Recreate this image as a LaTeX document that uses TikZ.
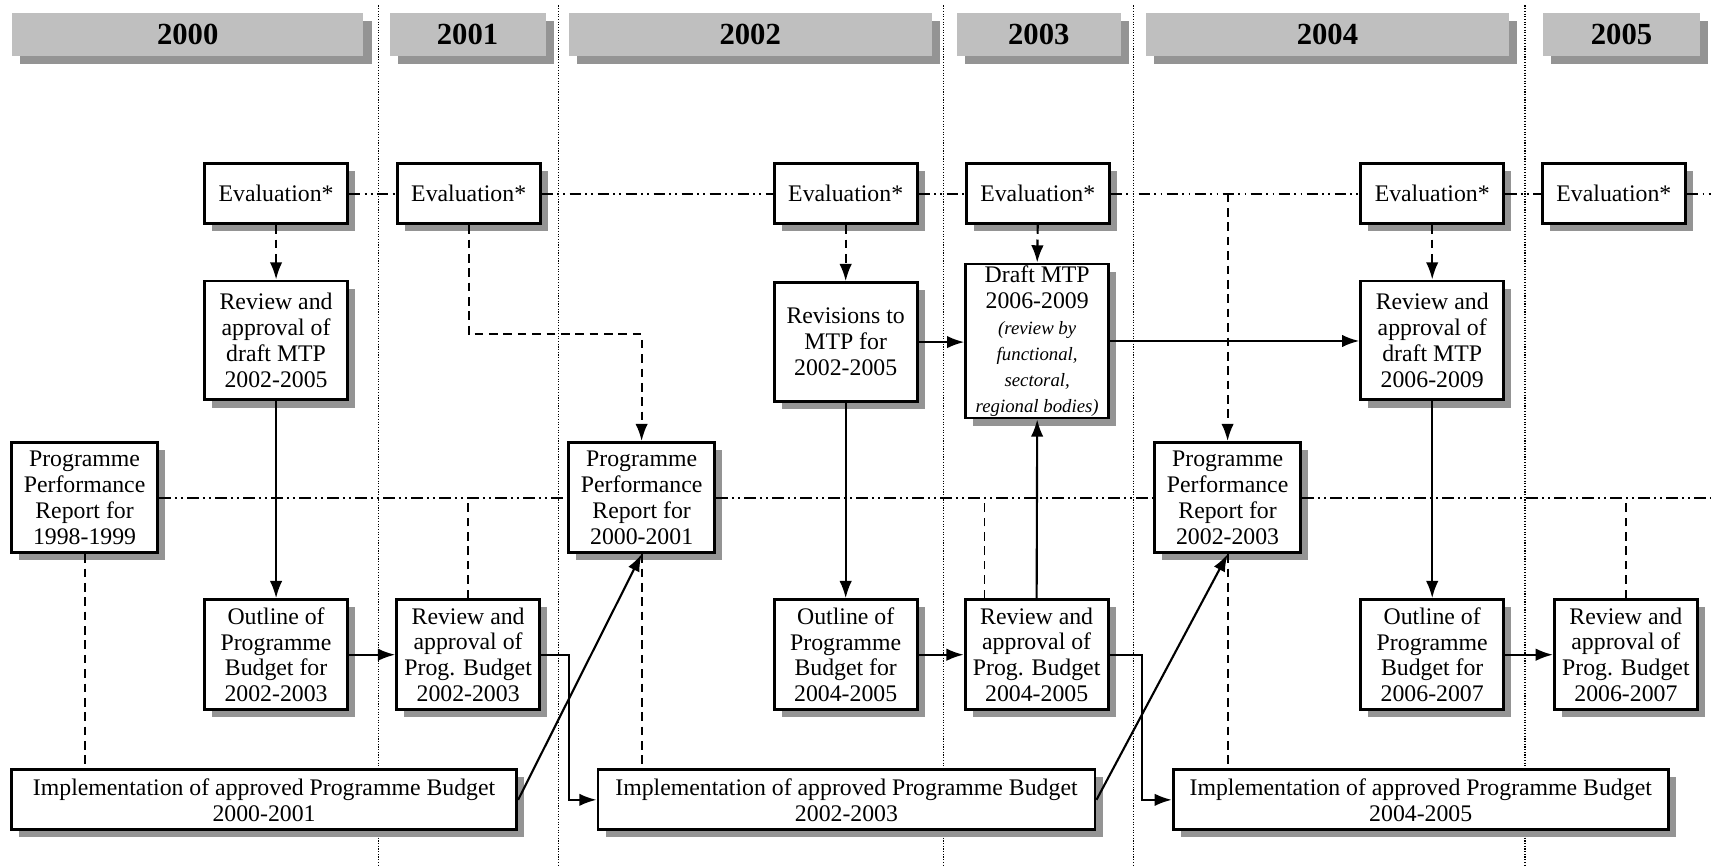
\documentclass[tikz,border=0pt]{standalone}
\usepackage{fontspec}
\setmainfont{Liberation Serif}
\usetikzlibrary{positioning}
\usetikzlibrary{shadows,arrows.meta}
\newcommand{\mtpnote}[1]{{\itshape\fontsize{9.8}{12}\selectfont #1}}

\begin{document}
\begin{tikzpicture}[x=0.2mm, y=-0.2mm,
  every node/.style = {font=\fontsize{12.4}{13.5}\selectfont},
  box/.style = {shape=rectangle, draw, line width=1.5pt, fill=white,
    align=center, inner sep=1pt, minimum width=2.62cm,
    drop shadow={shadow xshift=0.14cm, shadow yshift=-0.14cm, fill=black!42, opacity=1}},
  evalbox/.style = {box, minimum height=1.1cm},
  mtpbox/.style = {box, minimum height=2.18cm},
  pbbox/.style = {box, minimum height=2.02cm},
  implbox/.style = {box, minimum height=1.1cm},
  yearbar/.style = {shape=rectangle, fill=black!25, minimum height=0.78cm,
    font=\bfseries\fontsize{16}{18}\selectfont,
    drop shadow={shadow xshift=0.15cm, shadow yshift=-0.15cm, fill=black!42, opacity=1}},
  yearline/.style = {line width=0.6pt, dash pattern=on 0.6pt off 0.8pt},
  timeline/.style = {line width=1.1pt, dash pattern=on 6pt off 2.2pt on 1pt off 2.2pt on 1pt off 2.2pt},
  flow/.style = {draw, line width=1.1pt, -{Latex[length=9pt,width=6.5pt]}},
  dashflow/.style = {flow, dash pattern=on 4.5pt off 3pt},
  dashlink/.style = {draw, line width=1pt, dash pattern=on 4.5pt off 3pt}
  ]
  \useasboundingbox (0,0) rectangle (1568,794);

  \foreach \x in {347,511.5,864.5,1038.5,1397.5}
    \draw[yearline] (\x,5) -- (\x,794);

  \node[yearbar, minimum width=6.44cm] (y2000) at (172,31.5) {2000};
  \node[yearbar, minimum width=2.86cm] (y2001) at (428.5,31.5) {2001};
  \node[yearbar, minimum width=6.66cm] (y2002) at (687.5,31.5) {2002};
  \node[yearbar, minimum width=3.0cm] (y2003) at (952,31.5) {2003};
  \node[yearbar, minimum width=6.66cm] (y2004) at (1216.5,31.5) {2004};
  \node[yearbar, minimum width=2.88cm] (y2005) at (1486,31.5) {2005};

  \node[evalbox] (ev1) at (253,177.5) {Evaluation*};
  \node[evalbox] (ev2) at (429.5,177.5) {Evaluation*};
  \node[evalbox] (ev3) at (775,177.5) {Evaluation*};
  \node[evalbox] (ev4) at (951,177.5) {Evaluation*};
  \node[evalbox] (ev5) at (1312.5,177.5) {Evaluation*};
  \node[evalbox] (ev6) at (1479,177.5) {Evaluation*};

  \node[mtpbox] (mtp1) at (253,312) {Review and\\approval of\\draft MTP\\2002-2005};
  \node[mtpbox] (rev) at (775,313.5) {Revisions to\\MTP for\\2002-2005};
  \node[box, minimum height=2.78cm] (draft) at (950.5,312.5)
    {Draft MTP\\2006-2009\\\mtpnote{(review by}\\\mtpnote{functional,}\\\mtpnote{sectoral,}\\\mtpnote{regional bodies)}};
  \node[mtpbox] (mtp2) at (1312.5,312) {Review and\\approval of\\draft MTP\\2006-2009};

  \node[pbbox, minimum width=2.68cm] (ppr1) at (77.5,456) {Programme\\Performance\\Report for\\1998-1999};
  \node[pbbox, minimum width=2.68cm] (ppr2) at (588,456) {Programme\\Performance\\Report for\\2000-2001};
  \node[pbbox, minimum width=2.68cm] (ppr3) at (1125,456) {Programme\\Performance\\Report for\\2002-2003};

  \node[pbbox] (ob1) at (253,600) {Outline of\\Programme\\Budget for\\2002-2003};
  \node[pbbox] (rb1) at (429,600) {Review and\\approval of\\Prog. Budget\\2002-2003};
  \node[pbbox] (ob2) at (775,600) {Outline of\\Programme\\Budget for\\2004-2005};
  \node[pbbox] (rb2) at (950,600) {Review and\\approval of\\Prog. Budget\\2004-2005};
  \node[pbbox] (ob3) at (1312.5,600) {Outline of\\Programme\\Budget for\\2006-2007};
  \node[pbbox] (rb3) at (1490,600) {Review and\\approval of\\Prog. Budget\\2006-2007};

  \node[implbox, minimum width=9.26cm] (imp1) at (242,733) {Implementation of approved Programme Budget\\2000-2001};
  \node[implbox, minimum width=9.11cm] (imp2) at (775.75,733) {Implementation of approved Programme Budget\\2002-2003};
  \node[implbox, minimum width=9.07cm] (imp3) at (1302,733) {Implementation of approved Programme Budget\\2004-2005};

  \coordinate (tend) at (1568,177.5);
  \coordinate (mend) at (1568,456);
  \coordinate (t3) at (ppr3.north |- ev4.east);
  \coordinate (rb2tap) at ([xshift=0.38cm]rb2.north west);

  \draw[timeline] (ev1.east) -- (ev2.west) (ev2.east) -- (ev3.west) (ev3.east) -- (ev4.west)
    (ev4.east) -- (ev5.west) (ev5.east) -- (ev6.west) (ev6.east) -- (tend);
  \draw[timeline] (ppr1.east) -- (ppr2.west) (ppr2.east) -- (ppr3.west) (ppr3.east) -- (mend);

  \draw[dashflow] (ev1.south) -- (mtp1.north);
  \draw[dashflow] (ev2.south) -- ++(0,100) -| (ppr2.north);
  \draw[dashflow] (ev3.south) -- (rev.north);
  \draw[dashflow] (ev4.south) -- (draft.north);
  \draw[dashflow] (t3) -- (ppr3.north);
  \draw[dashflow] (ev5.south) -- (mtp2.north);

  \draw[dashlink] (ppr1.south) -- (ppr1.south |- imp1.north);
  \draw[dashlink] (ppr2.south) -- (ppr2.south |- imp2.north);
  \draw[dashlink] (ppr3.south) -- (ppr3.south |- imp3.north);
  \draw[dashlink] (rb1.north) -- (rb1.north |- ppr1.east);
  \draw[dashlink] (rb2tap) -- (rb2tap |- ppr1.east);
  \draw[dashlink] (rb3.north) -- (rb3.north |- ppr1.east);

  \draw[flow] (mtp1.south) -- (ob1.north);
  \draw[flow] (ob1.east) -- (rb1.west);
  \draw[flow] (rb1.east) -- ++(26,0) |- (imp2.west);
  \draw[flow] (imp1.east) -- (ppr2.south);
  \draw[flow] (rev.east) -- (rev.east -| draft.west);
  \draw[flow] (rev.south) -- (ob2.north);
  \draw[flow] (ob2.east) -- (rb2.west);
  \draw[flow] (rb2.north) -- (draft.south);
  \draw[flow] (draft.east) -- (draft.east -| mtp2.west);
  \draw[flow] (rb2.east) -- ++(30,0) |- (imp3.west);
  \draw[flow] (imp2.east) -- (ppr3.south);
  \draw[flow] (mtp2.south) -- (ob3.north);
  \draw[flow] (ob3.east) -- (rb3.west);
\end{tikzpicture}
\end{document}
